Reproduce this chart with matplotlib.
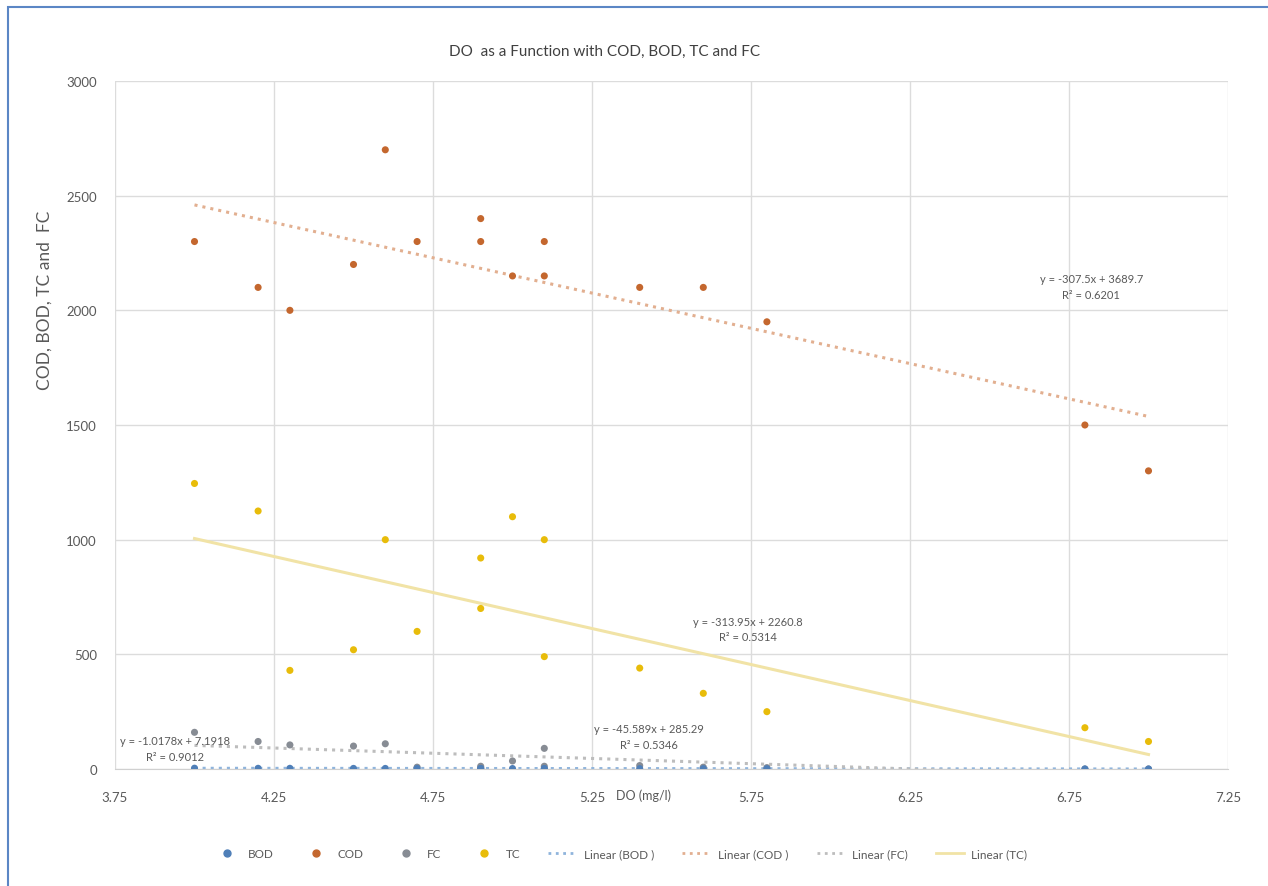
import matplotlib
matplotlib.use("Agg")
import matplotlib.pyplot as plt
from matplotlib.lines import Line2D
from matplotlib.patches import Rectangle
import numpy as np

plt.rcParams['font.family'] = ['Lato', 'DejaVu Sans']

# DO (mg/l) of each sample
do_vals = [4.0, 4.2, 4.3, 4.5, 4.6, 4.7, 4.9, 4.9, 5.0, 5.1, 5.1, 5.4, 5.6, 5.8, 6.8, 7.0]
bod = [3.5, 3.0, 3.0, 2.6, 2.5, 2.4, 2.2, 2.2, 2.0, 1.9, 1.8, 1.7, 1.5, 1.3, 0.3, 0.1]
cod = [2300, 2100, 2000, 2200, 2700, 2300, 2400, 2300, 2150, 2300, 2150, 2100, 2100, 1950, 1500, 1300]
fc = [160, 120, 105, 100, 110, 8, 12, 6, 35, 90, 12, 15, 8, 6, 0, 0]
tc = [1245, 1125, 430, 520, 1000, 600, 920, 700, 1100, 1000, 490, 440, 330, 250, 180, 120]

# trendline coefficients as printed on the chart
trend_names = ["BOD", "COD", "FC", "TC"]
trend_slope = [-1.0178, -307.5, -45.589, -313.95]
trend_icpt = [7.1918, 3689.7, 285.29, 2260.8]
trend_r2 = ["0.9012", "0.6201", "0.5346", "0.5314"]

x_ticks = [3.75, 4.25, 4.75, 5.25, 5.75, 6.25, 6.75, 7.25]
y_ticks = [0, 500, 1000, 1500, 2000, 2500, 3000]

pt_colors = {"BOD": "#4F7FB8", "COD": "#C4672E", "FC": "#878C94", "TC": "#E8BC0A"}
ln_colors = {"BOD": "#8FB4DC", "COD": "#E2AF90", "FC": "#BDBDBD", "TC": "#F1E3A6"}
ln_styles = {"BOD": ":", "COD": ":", "FC": ":", "TC": "-"}
txt = "#595959"

fig = plt.figure(figsize=(12.68, 8.87), dpi=100)
fig.patches.append(Rectangle((8 / 1268, -0.1), 1.2, (887 - 8) / 887 + 0.1,
                             transform=fig.transFigure, fill=False,
                             edgecolor="#5B86C5", linewidth=1.5))

ax = fig.add_axes([115 / 1268, 1 - 770 / 887, 1113 / 1268, 688 / 887])

series = {"BOD": bod, "COD": cod, "FC": fc, "TC": tc}
xr = np.array([min(do_vals), max(do_vals)])
for name, m, b in zip(trend_names, trend_slope, trend_icpt):
    ax.plot(xr, m * xr + b, color=ln_colors[name], linestyle=ln_styles[name],
            linewidth=2.2, zorder=2)
for name in ["FC", "TC", "COD", "BOD"]:
    ax.scatter(do_vals, series[name], s=26, color=pt_colors[name],
               edgecolors="none", zorder=3)

ax.set_xlim(3.75, 7.25)
ax.set_ylim(0, 3000)
ax.set_xticks(x_ticks)
ax.set_yticks(y_ticks)
ax.set_xticklabels([f"{v:.2f}" for v in x_ticks])
ax.tick_params(length=0, labelsize=9.5, colors=txt)
ax.tick_params(axis="x", pad=16)
ax.tick_params(axis="y", pad=13)
ax.grid(color="#DCDCDC", linewidth=1)
ax.set_axisbelow(True)
for s in ["top", "right", "left"]:
    ax.spines[s].set_visible(False)
ax.spines["bottom"].set_color("#D0D0D0")

# trendline labels
labels_pos = {"COD": (6.82, 2105), "TC": (5.74, 610), "BOD": (3.94, 90), "FC": (5.43, 142)}
for name, m, b, r2 in zip(trend_names, trend_slope, trend_icpt, trend_r2):
    x0, y0 = labels_pos[name]
    ax.text(x0, y0, f"y = {m}x + {b}\nR\u00b2 = {r2}", ha="center", va="center",
            fontsize=8, color=txt, linespacing=1.5)

fig.text(605 / 1268, 1 - 52 / 887, "DO  as a Function with COD, BOD, TC and FC",
         ha="center", va="center", fontsize=11, color="#404040")
fig.text(45 / 1268, 1 - 300 / 887, "COD, BOD, TC and  FC", rotation=90,
         ha="center", va="center", fontsize=12.5, color=txt)
fig.text(643 / 1268, 1 - 796 / 887, "DO (mg/l)", ha="center", va="center",
         fontsize=9, color=txt)

handles = [Line2D([], [], linestyle="none", marker="o", markersize=5,
                  color=pt_colors[n]) for n in trend_names]
handles += [Line2D([], [], linestyle=ln_styles[n], linewidth=2, color=ln_colors[n])
            for n in trend_names]
names = ["BOD", "COD", "FC", "TC", "Linear (BOD )", "Linear (COD )",
         "Linear (FC)", "Linear (TC)"]
fig.legend(handles, names, loc="center", bbox_to_anchor=(620 / 1268, 1 - 855 / 887),
           ncol=8, frameon=False, fontsize=8.5, labelcolor=txt,
           columnspacing=2.4, handlelength=2.4, handletextpad=0.6)

fig.savefig("out.png", dpi=100)
